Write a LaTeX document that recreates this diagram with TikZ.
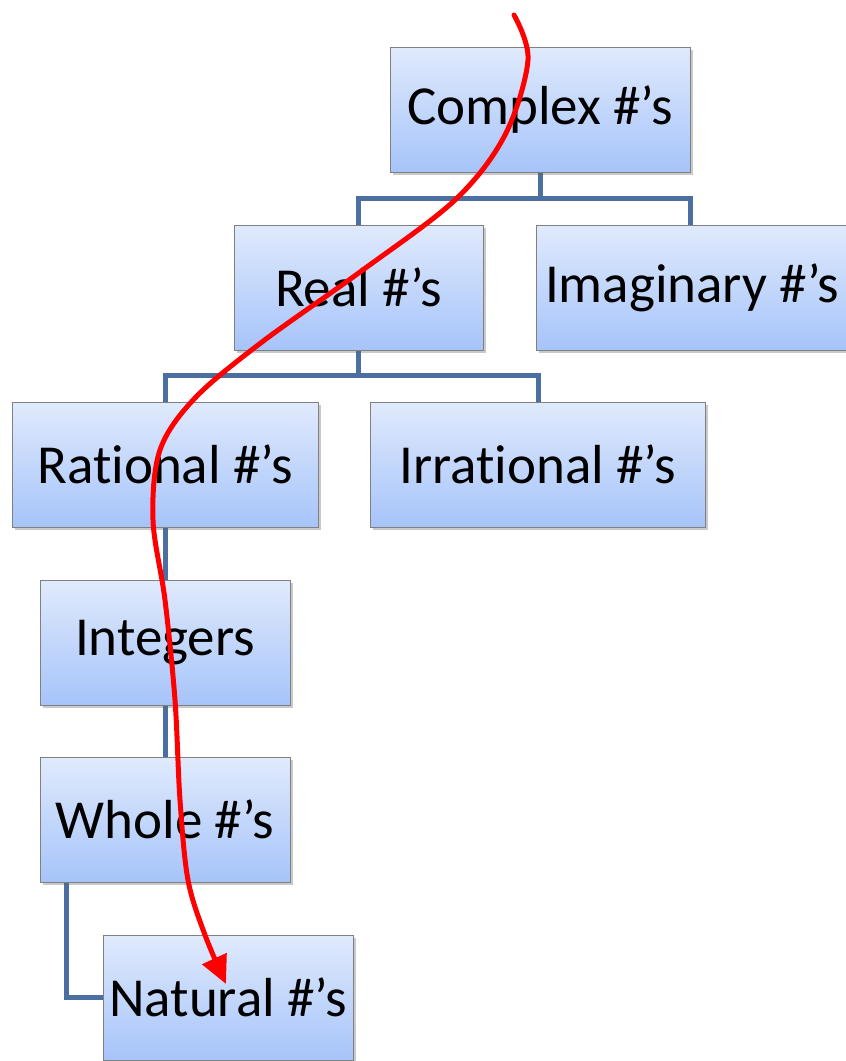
\documentclass[tikz,border=0pt]{standalone}
\usepackage{fontspec}
\setmainfont[Ligatures=NoCommon, RawFeature={-liga;-calt;-clig;-dlig}]{Carlito}
\usetikzlibrary{shadows,arrows.meta,calc}
\definecolor{boxtop}{HTML}{E0EAFC}
\definecolor{boxbot}{HTML}{A6C4FA}
\definecolor{boxline}{HTML}{808080}
\definecolor{linkblue}{HTML}{4A6FA0}
\definecolor{pathred}{HTML}{FF0000}
\tikzset{
  numbox/.style={rectangle, draw=boxline, line width=1pt,
    top color=boxtop, bottom color=boxbot,
    minimum height=125pt, inner sep=0pt,
    font=\fontsize{55}{60}\selectfont,
    drop shadow={shadow xshift=3pt, shadow yshift=-3pt, opacity=0.35, fill=black!60}},
  link/.style={draw=linkblue, line width=5pt},
  route/.style={draw=pathred, line width=5pt, line cap=round,
    -{Triangle[length=28pt,width=26pt]}}
}
\begin{document}
\begin{tikzpicture}[x=1pt,y=-1pt]
\useasboundingbox (0,0) rectangle (846,1061);
\fill[white] (0,0) rectangle (846,1061);

% tree connectors (drawn first so the boxes sit on top)
\coordinate (b1) at (540,198);
\coordinate (b2) at (358,375);
\coordinate (complexbot) at (540,172);
\coordinate (realbot) at (358,350);
\draw[link] (complexbot) -- (b1);
\draw[link] (358,225) |- (b1) -| (690,225);
\draw[link] (realbot) -- (b2);
\draw[link] (165,402) |- (b2) -| (538,402);
\draw[link] (165,527) -- (165,580);
\draw[link] (165,705) -- (165,757);
\draw[link] (66,882) |- (103,997);

% number-set boxes
\node[numbox, minimum width=300pt] (complex)    at (540,109.5) {Complex \#’s};
\node[numbox, minimum width=249pt] (real)       at (358.5,287.5) {Real \#’s};
\node[numbox, minimum width=312pt] (imag)       at (692,287.5) {Imaginary \#’s};
\node[numbox, minimum width=306pt] (rational)   at (165,464.5) {Rat\kern0pt ional \#’s};
\node[numbox, minimum width=335pt] (irrational) at (537.5,464.5) {Irrat\kern0pt ional \#’s};
\node[numbox, minimum width=250pt] (integers)   at (165,642.5) {Integers};
\node[numbox, minimum width=250pt] (whole)      at (165,819.5) {Whole \#’s};
\node[numbox, minimum width=250pt] (natural)    at (228,997.5) {Natural \#’s};

% red route from the top down to the natural numbers
\coordinate (start) at (514,15);
\coordinate (tip) at (226,984);
\draw[route] plot[smooth, tension=0.55] coordinates {
  (start) (528,60) (505,135) (455,200) (360,272) (262,342)
  (195,398) (160,450) (153,520) (165,600) (175,700)
  (180,800) (188,880) (205,935) (tip)};
\end{tikzpicture}
\end{document}
